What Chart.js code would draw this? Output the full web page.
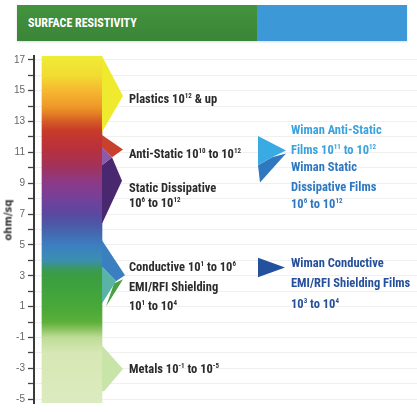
<!DOCTYPE html>
<html><head><meta charset="utf-8">
<script src="https://cdn.jsdelivr.net/npm/chart.js@4"></script>
<style>
html,body{margin:0;padding:0;background:#fff;}
#wrap{position:relative;width:417px;height:412px;overflow:hidden;font-family:"Liberation Sans Narrow","Roboto Condensed","Liberation Sans",sans-serif;}
#hdr{position:absolute;left:17px;top:5px;width:390px;height:36px;display:flex;box-shadow:0 1px 2px rgba(0,0,0,0.15);}
#hdrG{width:240px;height:36px;background:linear-gradient(#43933f,#3a8537);color:#fff;font-weight:bold;font-size:12px;line-height:36px;padding-left:11px;box-sizing:border-box;}
#hdrB{flex:1;background:#3d98d8;}
canvas{position:absolute;left:0;top:0;}
.lab{position:absolute;white-space:nowrap;font-weight:bold;font-size:12.5px;line-height:14px;transform:translateY(-50%);}
.lab sup{font-size:7px;vertical-align:baseline;position:relative;top:-5px;line-height:0;}
#ytitle{position:absolute;left:8px;top:220px;transform:translate(-50%,-50%) rotate(-90deg);font-family:"DejaVu Sans",sans-serif;font-weight:bold;font-size:10px;color:#333;white-space:nowrap;}
</style></head>
<body>
<div id="wrap">
  <div id="hdr"><div id="hdrG">SURFACE RESISTIVITY</div><div id="hdrB"></div></div>
  <canvas id="c" width="417" height="412"></canvas>
  <div id="ytitle">ohm/sq</div>
</div>
<script>
// ---- data (log10 of ohm/sq) ----
const yTicks = [-5,-4,-3,-2,-1,0,1,2,3,4,5,6,7,8,9,10,11,12,13,14,15,16,17];
const yRange = [-5.25, 17.25];
const columnX = 9.92;
const columnRange = [-5.25, 17.25];

const leftLabels = [
  'Plastics 10<sup>12</sup> &amp; up',
  'Anti-Static 10<sup>10</sup> to 10<sup>12</sup>',
  'Static Dissipative',
  '10<sup>6</sup> to 10<sup>12</sup>',
  'Conductive 10<sup>1</sup> to 10<sup>6</sup>',
  'EMI/RFI Shielding',
  '10<sup>1</sup> to 10<sup>4</sup>',
  'Metals 10<sup>-1</sup> to 10<sup>-5</sup>'
];
const leftLabelValues = [14.47, 10.87, 8.72, 7.71, 3.60, 2.27, 1.07, -3.04];
const leftLabelX = 24.8;

const rightLabels = [
  'Wiman Anti-Static',
  'Films 10<sup>11</sup> to 10<sup>12</sup>',
  'Wiman Static',
  'Dissipative Films',
  '10<sup>6</sup> to 10<sup>12</sup>',
  'Wiman Conductive',
  'EMI/RFI Shielding Films',
  '10<sup>3</sup> to 10<sup>4</sup>'
];
const rightLabelValues = [12.45, 11.18, 10.05, 8.78, 7.64, 3.85, 2.52, 1.20];
const rightLabelX = 67.1;

// arrow shapes, [x, log10 value] vertices
const plastics      = [[17.75,17.25],[23.24,14.66],[17.75,12.32]];
const antiStatic    = [[17.75,12.13],[23.24,11.18],[20.37,10.68],[17.75,11.31]];
const overlapViolet = [[17.75,11.31],[20.37,10.68],[17.75,10.17]];
const staticDiss    = [[17.75,10.17],[20.37,10.68],[22.98,9.16],[17.75,6.38]];
const conductive    = [[17.75,5.31],[23.76,3.03],[21.41,2.65],[17.75,3.60]];
const emiTeal       = [[17.75,3.60],[21.41,2.65],[17.75,1.20]];
const emiGreen      = [[20.9,2.5],[23.24,2.78],[18.8,1.0]];
const metals        = [[17.75,-1.52],[23.24,-3.04],[18.28,-4.49],[17.75,-4.49]];
const wimanAnti     = [[58.49,12.07],[65.80,11.12],[62.14,10.68],[58.49,10.17]];
const wimanStatic   = [[58.49,10.17],[62.14,10.68],[65.80,10.93],[59.01,9.04]];
const wimanCond     = [[58.49,4.17],[65.54,3.54],[58.49,2.90]];

// ---- styles ----
const gradStops = [
  [17.25,'#eeec36'],[16,'#f2dc32'],[15,'#f5b830'],[14,'#ef9a2a'],[13.5,'#e57e26'],
  [13,'#d45a26'],[12.4,'#c83a2a'],[11.2,'#b8303c'],[10.2,'#a43258'],[9,'#8a3a88'],
  [8,'#74409a'],[7,'#5a48a0'],[6.2,'#4a5ca8'],[5,'#3c7ec0'],[4,'#3a8fb0'],
  [3.4,'#3a9a58'],[3,'#3a9e40'],[1,'#48a838'],[0,'#5caf3a'],[-0.5,'#8cc462'],
  [-1,'#c0dc98'],[-2,'#d6e8b4'],[-5.25,'#dcebbf']
];
const shapeStyles = [
  [plastics,'#f0ea2e'],[antiStatic,'#c8402e'],[overlapViolet,'#8e5aa6'],[staticDiss,'#4a2870'],
  [conductive,'#3a80c0'],[emiTeal,'#5ab4a6'],[emiGreen,'#4aa040'],[metals,'#c8e4a8'],
  [wimanAnti,'#3aaae2'],[wimanStatic,'#2f78c0'],[wimanCond,'#24519e']
];

function columnGradient(ctx){
  const chart = ctx.chart;
  if (!chart.chartArea) return '#ccc';
  const y = chart.scales.y;
  const top = y.getPixelForValue(gradStops[0][0]);
  const bot = y.getPixelForValue(gradStops[gradStops.length-1][0]);
  const g = chart.ctx.createLinearGradient(0, top, 0, bot);
  gradStops.forEach(([v,c]) => {
    const p = (y.getPixelForValue(v) - top) / (bot - top);
    g.addColorStop(Math.min(1,Math.max(0,p)), c);
  });
  return g;
}

const datasets = [{
  type:'bar',
  data:[{x:columnX, y:columnRange}],
  backgroundColor: columnGradient,
  borderWidth:0,
  barThickness:60,
  order:2
}];
shapeStyles.forEach(([pts,color]) => {
  datasets.push({
    type:'line',
    data: pts.map(([x,y]) => ({x,y})),
    backgroundColor: color,
    borderWidth:0,
    borderColor:'rgba(0,0,0,0)',
    pointRadius:0,
    fill:'shape',
    tension:0,
    order:1
  });
});

const labelPlugin = {
  id:'labels',
  afterDraw(chart){
    const wrap = document.getElementById('wrap');
    const x = chart.scales.x, y = chart.scales.y;
    const place = (texts, vals, xv, colorFn, cls) => {
      texts.forEach((t,i) => {
        let el = document.getElementById(cls+i);
        if (!el){ el = document.createElement('div'); el.id = cls+i; el.className='lab'; el.innerHTML = t; wrap.appendChild(el); }
        el.style.left = x.getPixelForValue(xv) + 'px';
        el.style.top = y.getPixelForValue(vals[i]) + 'px';
        el.style.color = colorFn(i);
      });
    };
    place(leftLabels, leftLabelValues, leftLabelX, () => '#2b2b2b', 'l');
    place(rightLabels, rightLabelValues, rightLabelX, i => i < 2 ? '#3aa2de' : (i < 5 ? '#2e78c2' : '#27509c'), 'r');
  }
};

new Chart(document.getElementById('c'), {
  type:'bar',
  data:{datasets},
  options:{
    responsive:false,
    animation:false,
    layout:{padding:{top:56,left:0,right:0,bottom:0}},
    plugins:{legend:{display:false},tooltip:{enabled:false}},
    scales:{
      x:{type:'linear',display:false,min:0,max:100,offset:false,grid:{offset:false}},
      y:{
        type:'linear',min:yRange[0],max:yRange[1],
        afterFit(s){ s.width = 34; },
        afterBuildTicks(s){ s.ticks = yTicks.map(v => ({value:v})); },
        border:{display:true,color:'#3a3a3a',width:2},
        grid:{color:'rgba(0,0,0,0.06)',tickColor:'#444',tickLength:6,tickWidth:1.3,lineWidth:1},
        ticks:{
          autoSkip:false,padding:3,color:'#666',
          font:{family:'"Liberation Sans Narrow","Liberation Sans",sans-serif',size:10},
          callback:(v) => (Math.abs(v % 2) === 1 ? String(v) : '')
        }
      }
    }
  },
  plugins:[labelPlugin]
});
</script>
</body></html>
